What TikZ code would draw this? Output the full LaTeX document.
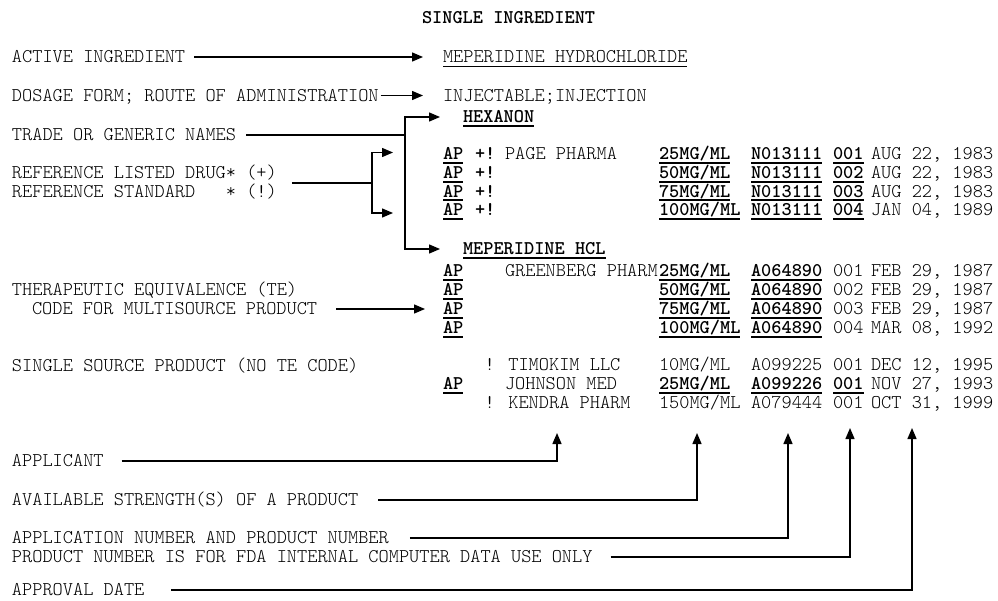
\documentclass[tikz,border=0pt]{standalone}
\usetikzlibrary{arrows.meta}
\newcommand\fL{\fontsize{19.4pt}{22pt}\ttfamily\fontseries{l}\selectfont}
\newcommand\fB{\fontsize{19.4pt}{22pt}\ttfamily\fontseries{b}\selectfont}
\tikzset{
  tl/.style={inner sep=0pt, outer sep=0pt, anchor=west, text height=11.85pt, text depth=0pt, font=\fL},
  tb/.style={tl, font=\fB},
  ln/.style={line width=1.4pt},
  arr/.style={ln, -{Triangle[length=11pt,width=9pt]}},
  ulk/.style={line width=2pt},
  ult/.style={line width=1pt},
}
\newcommand\txL[4]{\node[tl] (#1) at (#2,#3) {#4};}
\newcommand\txB[4]{\node[tb] (#1) at (#2,#3) {#4};}
\newcommand\txU[4]{\node[tb] (#1) at (#2,#3) {#4};\draw[ulk] ([yshift=-3pt]#1.south west) -- ([yshift=-3pt]#1.south east);}
\begin{document}
\begin{tikzpicture}[x=1pt,y=-1pt]
\fill[white] (0,0) rectangle (998,600);
\useasboundingbox (0,0) rectangle (998,600);
% title
\txB{title}{422}{18}{SINGLE INGREDIENT}
% left labels
\txL{lact}{12}{57}{ACTIVE INGREDIENT}
\txL{ldos}{12}{95.5}{DOSAGE FORM; ROUTE OF ADMINISTRATION}
\txL{ltrade}{12}{135}{TRADE OR GENERIC NAMES}
\txL{lref1}{12}{173}{REFERENCE LISTED DRUG* (+)}
\txL{lref2}{12}{192}{REFERENCE STANDARD\ \ \ * (!)}
\txL{lte}{12}{290}{THERAPEUTIC EQUIVALENCE (TE)}
\txL{lcode}{32}{309}{CODE FOR MULTISOURCE PRODUCT}
\txL{lss}{12}{366}{SINGLE SOURCE PRODUCT (NO TE CODE)}
\txL{lapp}{12}{461}{APPLICANT}
\txL{lstr}{12}{500}{AVAILABLE STRENGTH(S) OF A PRODUCT}
\txL{lanum}{12}{538}{APPLICATION NUMBER AND PRODUCT NUMBER}
\txL{lpnum}{12}{557}{PRODUCT NUMBER IS FOR FDA INTERNAL COMPUTER DATA USE ONLY}
\txL{ldate}{12}{590}{APPROVAL DATE}
% right side header
\txL{ingr}{443}{57}{MEPERIDINE HYDROCHLORIDE}
\draw[ult] ([yshift=-4pt]ingr.south west) -- ([yshift=-4pt]ingr.south east);
\txL{inj}{443}{95.5}{INJECTABLE;INJECTION}
\txU{hex}{463}{117}{HEXANON}
% HEXANON rows
\txU{h1a}{443}{154}{AP}\txB{h1p}{475}{154}{+!}\txL{h1n}{505}{154}{PAGE PHARMA}
\txU{h1s}{659}{154}{25MG/ML}\txU{h1r}{751}{154}{N013111}\txU{h1q}{833}{154}{001}\txL{h1d}{871}{154}{AUG 22, 1983}
\txU{h2a}{443}{172.7}{AP}\txB{h2p}{475}{172.7}{+!}
\txU{h2s}{659}{172.7}{50MG/ML}\txU{h2r}{751}{172.7}{N013111}\txU{h2q}{833}{172.7}{002}\txL{h2d}{871}{172.7}{AUG 22, 1983}
\txU{h3a}{443}{191.4}{AP}\txB{h3p}{475}{191.4}{+!}
\txU{h3s}{659}{191.4}{75MG/ML}\txU{h3r}{751}{191.4}{N013111}\txU{h3q}{833}{191.4}{003}\txL{h3d}{871}{191.4}{AUG 22, 1983}
\txU{h4a}{443}{210}{AP}\txB{h4p}{475}{210}{+!}
\txU{h4s}{659}{210}{100MG/ML}\txU{h4r}{751}{210}{N013111}\txU{h4q}{833}{210}{004}\txL{h4d}{871}{210}{JAN 04, 1989}
% MEPERIDINE HCL rows
\txU{mhcl}{463}{249}{MEPERIDINE HCL}
\txU{g1a}{443}{271}{AP}\txL{g1n}{505}{271}{GREENBERG PHARM}
\txU{g1s}{659}{271}{25MG/ML}\txU{g1r}{751}{271}{A064890}\txL{g1q}{833}{271}{001}\txL{g1d}{871}{271}{FEB 29, 1987}
\txU{g2a}{443}{290}{AP}
\txU{g2s}{659}{290}{50MG/ML}\txU{g2r}{751}{290}{A064890}\txL{g2q}{833}{290}{002}\txL{g2d}{871}{290}{FEB 29, 1987}
\txU{g3a}{443}{309}{AP}
\txU{g3s}{659}{309}{75MG/ML}\txU{g3r}{751}{309}{A064890}\txL{g3q}{833}{309}{003}\txL{g3d}{871}{309}{FEB 29, 1987}
\txU{g4a}{443}{328}{AP}
\txU{g4s}{659}{328}{100MG/ML}\txU{g4r}{751}{328}{A064890}\txL{g4q}{833}{328}{004}\txL{g4d}{871}{328}{MAR 08, 1992}
% single source rows
\txL{t1n}{484.6}{365}{! TIMOKIM LLC}
\txL{t1s}{659}{365}{10MG/ML}\txL{t1r}{751}{365}{A099225}\txL{t1q}{833}{365}{001}\txL{t1d}{871}{365}{DEC 12, 1995}
\txU{t2a}{443}{384}{AP}\txL{t2n}{505}{384}{JOHNSON MED}
\txU{t2s}{659}{384}{25MG/ML}\txU{t2r}{751}{384}{A099226}\txU{t2q}{833}{384}{001}\txL{t2d}{871}{384}{NOV 27, 1993}
\txL{t3n}{484.6}{403}{! KENDRA PHARM}
\txL{t3s}{659}{403}{150MG/ML}\txL{t3r}{751}{403}{A079444}\txL{t3q}{833}{403}{001}\txL{t3d}{871}{403}{OCT 31, 1999}
% connectors
\draw[arr] ([xshift=9pt]lact.east) -- ([xshift=-20pt]ingr.west);
\draw[arr] ([xshift=2pt]ldos.east) -- ([xshift=-20pt]inj.west);
\coordinate (tj) at (405,135);
\draw[ln] ([xshift=10pt]ltrade.east) -- (tj);
\draw[arr] (tj) |- ([xshift=-23pt]hex.west);
\draw[arr] (tj) |- ([xshift=-23pt]mhcl.west);
\coordinate (rj) at (372,183);
\draw[ln] ([xshift=15pt]lref1.east |- rj) -- (rj);
\draw[arr] (rj) |- ([xshift=-50pt,yshift=1.5pt]h1a.west);
\draw[arr] (rj) |- ([xshift=-50pt,yshift=-3pt]h4a.west);
\draw[arr] ([xshift=19pt]lcode.east) -- ([xshift=-18pt]g3a.west);
\coordinate (upA) at (557,433);
\coordinate (upB) at (697,433);
\coordinate (upC) at (788,433);
\coordinate (upD) at (850,428);
\coordinate (upE) at (912,428);
\draw[arr] ([xshift=18pt]lapp.east) -| (upA);
\draw[arr] ([xshift=20pt]lstr.east) -| (upB);
\draw[arr] ([xshift=21pt]lanum.east) -| (upC);
\draw[arr] ([xshift=18pt]lpnum.east) -| (upD);
\draw[arr] ([xshift=27pt]ldate.east) -| (upE);
\end{tikzpicture}
\end{document}
